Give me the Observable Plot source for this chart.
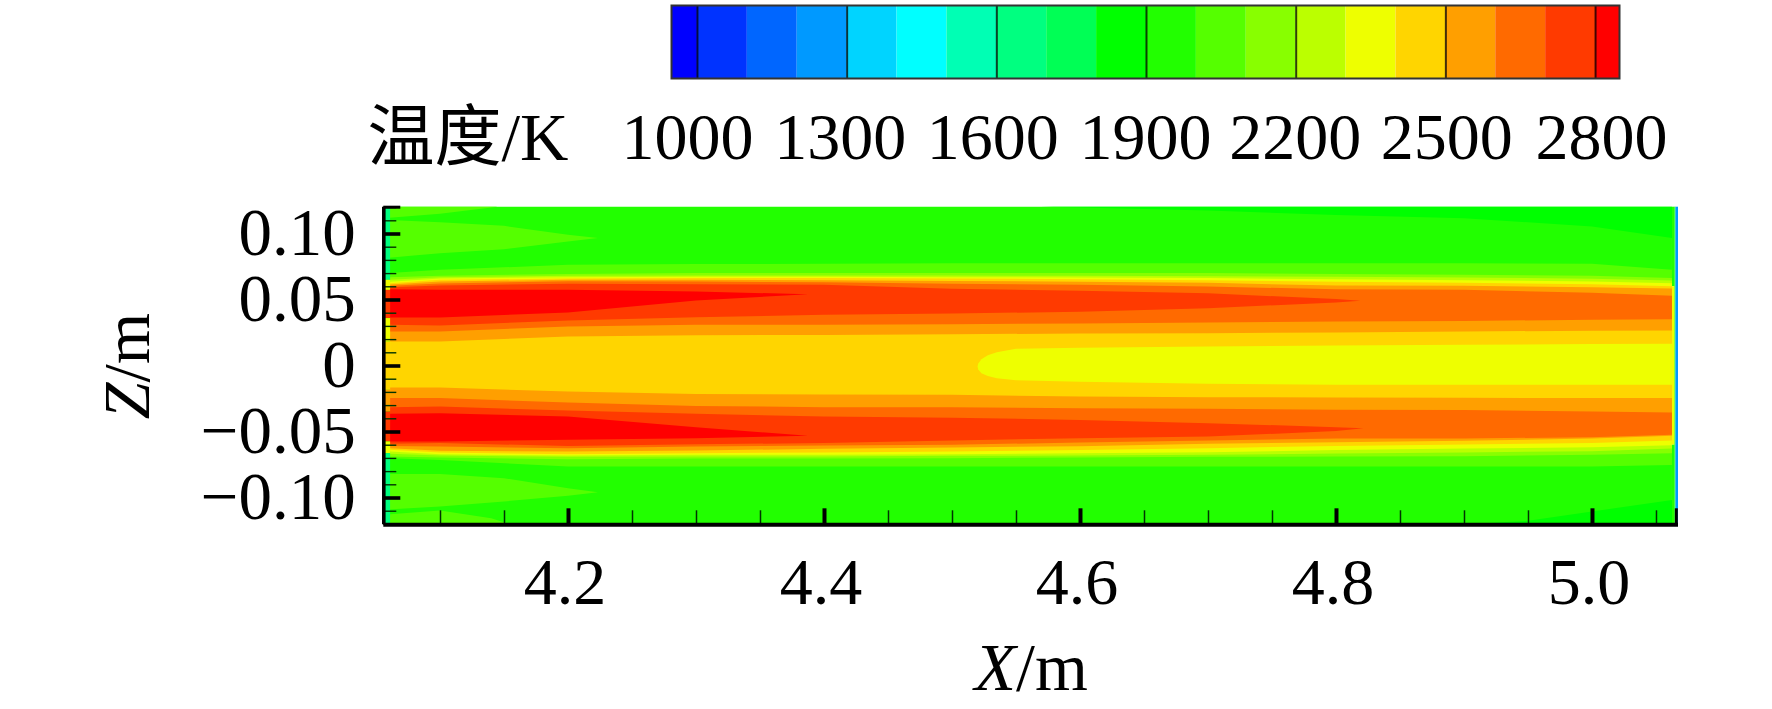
<!DOCTYPE html>
<html>
<head>
<meta charset="utf-8">
<script src="https://cdn.jsdelivr.net/npm/d3@7"></script>
<script src="https://cdn.jsdelivr.net/npm/@observablehq/plot@0.6"></script>
<style>
html,body{margin:0;padding:0;background:#fff;overflow:hidden}
svg{display:block}
</style>
</head>
<body>
<div id="chart"></div>
<script>
// Colour legend: isotherm levels and band colours
const isotherms = d3.range(1000, 2801, 100);
const bandColors = ["#0000ff","#0033ff","#0066ff","#0099ff","#00d4ff","#00ffff","#00ffb4","#00ff80","#00ff55","#00ff00",
  "#22ff00","#55ff00","#88ff00","#bbff00","#eeff00","#ffd500","#ff9f00","#ff6a00","#ff3a00","#ff0000"];
const legendTicks = [1000,1300,1600,1900,2200,2500,2800];
const legendLabelAt = [980,1286,1592,1898,2198,2502,2812];
const legendExtent = [948,2848];

// Axis values
const xDomain = [4.0557,5.0672];
const zDomain = [-0.1203,0.1203];
const xMajor = [4.2,4.4,4.6,4.8,5.0];
const xMinor = [4.1,4.15,4.25,4.3,4.35,4.45,4.5,4.55,4.65,4.7,4.75,4.85,4.9,4.95,5.05];
const zMajor = [0.10,0.05,0,-0.05,-0.10];
const zMinor = [0.12,0.11,0.09,0.08,0.07,0.06,0.04,0.03,0.02,0.01,-0.01,-0.02,-0.03,-0.04,-0.06,-0.07,-0.08,-0.09,-0.11,-0.12];

// X stations at which the isotherm positions were read
const stations = [4.061,4.1,4.2,4.3,4.4,4.5,4.6,4.7,4.8,4.9,5.0,5.0625];
const stations2700up = [4.061,4.1,4.2,4.3,4.4,4.5,4.6,4.7,4.8,4.819];
const stations2700lo = [4.061,4.1,4.2,4.3,4.4,4.5,4.6,4.7,4.8,4.8215];
const stations2800 = [4.061,4.1,4.2,4.3,4.3875];

// Z position of each isotherm, upper jet
const out2000 = [.0700,.0725,.0763,.0768,.0770,.0775,.0775,.0775,.0775,.0775,.0770,.0725];
const out2100 = [.0669,.0679,.0694,.0700,.0700,.0700,.0700,.0700,.0694,.0687,.0679,.0662];
const out2200 = [.0649,.0669,.0679,.0682,.0682,.0682,.0679,.0677,.0672,.0667,.0657,.0644];
const out2300 = [.0634,.0659,.0669,.0672,.0672,.0669,.0667,.0662,.0654,.0646,.0636,.0624];
const out2400 = [.0624,.0649,.0659,.0662,.0662,.0659,.0654,.0646,.0634,.0626,.0616,.0601];
const out2500 = [.0614,.0636,.0649,.0649,.0646,.0641,.0634,.0626,.0606,.0604,.0593,.0583];
const out2600 = [.0604,.0621,.0639,.0636,.0631,.0619,.0611,.0598,.0578,.0573,.0551,.0528];
const out2700 = [.0593,.0606,.0619,.0616,.0611,.0581,.0566,.0548,.0503,.0490];
const out2800 = [.0578,.0573,.0573,.0561,.0540];
const in2800 = [.0364,.0364,.0402,.0492,.0540];
const in2700 = [.0308,.0303,.0341,.0366,.0384,.0394,.0407,.0434,.0477,.0490];
const in2600 = [.0258,.0258,.0295,.0308,.0308,.0313,.0318,.0326,.0333,.0338,.0346,.0351];
const in2500 = [.0182,.0182,.0220,.0230,.0232,.0237,.0242,.0245,.0250,.0258,.0263,.0265];

// Z position of each isotherm, lower jet
const low2000 = [-.0702,-.0715,-.0765,-.0765,-.0765,-.0765,-.0765,-.0765,-.0765,-.0765,-.0765,-.0753];
const low2100 = [-.0689,-.0697,-.0710,-.0705,-.0705,-.0702,-.0697,-.0692,-.0689,-.0687,-.0677,-.0664];
const low2200 = [-.0669,-.0682,-.0692,-.0689,-.0689,-.0684,-.0682,-.0677,-.0667,-.0659,-.0649,-.0629];
const low2300 = [-.0652,-.0672,-.0682,-.0677,-.0677,-.0672,-.0664,-.0657,-.0641,-.0629,-.0619,-.0604];
const low2400 = [-.0639,-.0659,-.0672,-.0664,-.0659,-.0652,-.0641,-.0626,-.0609,-.0598,-.0588,-.0568];
const low2500 = [-.0626,-.0646,-.0652,-.0644,-.0631,-.0621,-.0611,-.0593,-.0581,-.0571,-.0553,-.0533];
const low2600 = [-.0609,-.0614,-.0626,-.0614,-.0606,-.0601,-.0583,-.0568,-.0553,-.0553,-.0543,-.0525];
const low2700 = [-.0593,-.0588,-.0609,-.0596,-.0588,-.0568,-.0551,-.0538,-.0497,-.0475];
const low2800 = [-.0576,-.0576,-.0563,-.0551,-.0533];
const mid2800 = [-.0366,-.0361,-.0386,-.0467,-.0533];
const mid2700 = [-.0316,-.0311,-.0341,-.0366,-.0386,-.0396,-.0412,-.0437,-.0467,-.0475];
const mid2600 = [-.0247,-.0247,-.0280,-.0306,-.0316,-.0316,-.0323,-.0328,-.0336,-.0338,-.0348,-.0356];
const mid2500 = [-.0167,-.0167,-.0197,-.0215,-.0220,-.0222,-.0235,-.0240,-.0242,-.0245,-.0247,-.0247];

// Cooler central core (2300-2400 K) near the outlet
const coreX = [4.520,4.5205,4.523,4.528,4.535,4.55,4.6,4.7,4.8,4.9,5.0,5.0625];
const coreTop = [-.0008,.0016,.0048,.0078,.0100,.0126,.0134,.0144,.0152,.0157,.0162,.0164];
const coreBot = [-.0008,-.0030,-.0058,-.0080,-.0096,-.0111,-.0124,-.0139,-.0146,-.0146,-.0146,-.0146];

// Warmer patches (2000-2100 K) near the inlet
const patchX = [4.0557,4.1,4.15,4.2,4.2234];
const patchUpTop = [.1104,.1086,.1058,.0990,.0965];
const patchUpBot = [.0813,.0851,.0881,.0939,.0965];
const patchLoTop = [-.0821,-.0821,-.0854,-.0929,-.0960];
const patchLoBot = [-.1093,-.1068,-.1030,-.0987,-.0960];
const cornerUpX = [4.0557,4.1,4.145];
const cornerUpBot = [.1116,.1149,.1203];
const cornerLoX = [4.0557,4.1,4.14,4.155];
const cornerLoTop = [-.1131,-.1099,-.1157,-.1203];

// Cooler corners (1800-1900 K) near the outlet
const coolUpX = [4.569,4.6,4.7,4.8,4.9,5.0,5.0625];
const coolUpBot = [.1203,.1197,.1174,.1141,.1116,.1053,.0965];
const coolLoX = [4.9,4.95,5.0,5.0625];
const coolLoTop = [-.1203,-.1177,-.1106,-.1018];

// Temperature columns along the two walls
const wallZ = [.1203,.0649,.0573,.0359,.0182,-.0184,-.0348,-.0576,-.0664,-.1203];
const wallInlet = [1650,2300,2700,2300,2400,2500,2700,2300,1650];
const outletZ = [.1203,.0601,-.0600,-.1203];
const wallOutlet = [1900,2300,1900];
const edgeOutlet = 1800, edgeFar = 1250;

const band = (t,xs,hi,lo) => xs.map((x,i)=>({t,x,z1:Array.isArray(hi)?hi[i]:hi,z2:Array.isArray(lo)?lo[i]:lo}));
const zTop = zDomain[1], zBot = zDomain[0];

const layers = [
  band(1900,[xDomain[0],5.0625],zTop,zBot),
  band(2000,patchX,patchUpTop,patchUpBot),
  band(2000,patchX,patchLoTop,patchLoBot),
  band(2000,cornerUpX,zTop,cornerUpBot),
  band(2000,cornerLoX,cornerLoTop,zBot),
  band(1800,coolUpX,zTop,coolUpBot),
  band(1800,coolLoX,coolLoTop,zBot),
  band(2000,stations,out2000,low2000),
  band(2100,stations,out2100,low2100),
  band(2200,stations,out2200,low2200),
  band(2300,stations,out2300,low2300),
  band(2400,stations,out2400,low2400),
  band(2500,stations,out2500,in2500),
  band(2500,stations,mid2500,low2500),
  band(2600,stations,out2600,in2600),
  band(2600,stations,mid2600,low2600),
  band(2700,stations2700up,out2700,in2700),
  band(2700,stations2700lo,mid2700,low2700),
  band(2800,stations2800,out2800,in2800),
  band(2800,stations2800,mid2800,low2800),
  band(2300,coreX,coreTop,coreBot)
];

const wallCells = [
  ...wallInlet.map((t,i)=>({t,x1:xDomain[0],x2:4.061,z1:wallZ[i],z2:wallZ[i+1]})),
  ...wallOutlet.map((t,i)=>({t,x1:5.0625,x2:5.0645,z1:outletZ[i],z2:outletZ[i+1]})),
  {t:edgeOutlet,x1:5.0645,x2:5.0652,z1:zTop,z2:zBot},
  {t:edgeFar,x1:5.0652,x2:xDomain[1],z1:zTop,z2:zBot}
];

const legendCells = bandColors.map((_,i)=>({
  t: i===0 ? 900 : isotherms[i-1],
  x1: i===0 ? legendExtent[0] : isotherms[i-1],
  x2: i===isotherms.length ? legendExtent[1] : isotherms[i]
}));

const FONT = '"Liberation Serif","Noto Sans CJK SC",serif';
const colorScale = {type:"threshold",domain:isotherms,range:bandColors};

const legendPlot = Plot.plot({
  width:1772,height:175,
  marginLeft:671,marginRight:153,marginTop:5,marginBottom:97,
  style:{background:"white",fontFamily:FONT,color:"black"},
  x:{domain:legendExtent,axis:null},
  y:{domain:[0,1],axis:null},
  color:colorScale,
  marks:[
    Plot.rect(legendCells,{x1:"x1",x2:"x2",y1:0,y2:1,fill:"t"}),
    Plot.ruleX(legendTicks,{stroke:"#000",strokeOpacity:0.75,strokeWidth:2}),
    Plot.frame({stroke:"#333",strokeWidth:2}),
    Plot.text(legendTicks,{x:(d,i)=>legendLabelAt[i],text:d=>String(d),frameAnchor:"bottom",lineAnchor:"top",dy:34,fontSize:66,fontFamily:FONT,fill:"black"}),
    Plot.text(["温度/K"],{frameAnchor:"left",dx:-304,dy:97,fontSize:67,fontFamily:FONT,fill:"black"})
  ]
});

const fmtZ = d => d===0 ? "0" : (d<0?"\u2212":"")+Math.abs(d).toFixed(2);
const xTickLen = 16/1320, xMinorLen = 11/1320;
const zTickLen = 17/1280, zMinorLen = 13/1280;

const mainPlot = Plot.plot({
  width:1772,height:534,
  marginLeft:383.3,marginRight:94,marginTop:31.7,marginBottom:184.7,
  style:{background:"white",fontFamily:FONT,color:"black"},
  x:{domain:xDomain,axis:null},
  y:{domain:zDomain,axis:null},
  color:colorScale,
  marks:[
    ...layers.map(rows=>Plot.areaY(rows,{x:"x",y1:"z1",y2:"z2",fill:"t"})),
    Plot.rect(wallCells,{x1:"x1",x2:"x2",y1:"z1",y2:"z2",fill:"t"}),
    Plot.ruleX(xMinor,{y1:zBot,y2:zBot+xMinorLen+3/1320,stroke:"#003300",strokeWidth:1.5}),
    Plot.ruleY(zMinor,{x1:xDomain[0],x2:xDomain[0]+zMinorLen,stroke:"#003300",strokeWidth:1.4}),
    Plot.ruleX(xMajor,{y1:zBot,y2:zBot+xTickLen,stroke:"#000",strokeWidth:4}),
    Plot.ruleX([5.0655],{y1:zBot,y2:zBot+xTickLen,stroke:"#000",strokeWidth:3}),
    Plot.ruleY(zMajor,{x1:xDomain[0],x2:xDomain[0]+zTickLen,stroke:"#000",strokeWidth:3.6}),
    Plot.ruleY([zTop],{x1:xDomain[0],x2:xDomain[0]+zTickLen,stroke:"#000",strokeWidth:3}),
    Plot.ruleX([xDomain[0]],{stroke:"#000",strokeWidth:3.6}),
    Plot.ruleY([zBot],{x1:xDomain[0],x2:xDomain[1],stroke:"#000",strokeWidth:4}),
    Plot.axisX({ticks:xMajor,tickSize:0,tickPadding:32,dx:-3.5,fontSize:66,fontFamily:FONT,label:null,tickFormat:d=>d.toFixed(1)}),
    Plot.axisY({ticks:zMajor,tickSize:0,tickPadding:28,fontSize:67,fontFamily:FONT,label:null,tickFormat:fmtZ}),
    Plot.text(["X/m"],{frameAnchor:"bottom",lineAnchor:"bottom",dy:165,fontSize:68,fontFamily:FONT,fill:"black"}),
    Plot.text(["Z/m"],{frameAnchor:"left",textAnchor:"middle",rotate:-90,lineAnchor:"bottom",dx:-235,fontSize:66,fontFamily:FONT,fill:"black"})
  ]
});

// Axis titles set the variable letter in italic
d3.select(mainPlot).selectAll("text").each(function(){
  const s = this.textContent;
  if (s==="X/m" || s==="Z/m") {
    const el = d3.select(this);
    el.text(null);
    el.append("tspan").attr("font-style","italic").text(s[0]);
    el.append("tspan").text("/m");
  }
});

const chartRoot = document.getElementById("chart");
chartRoot.appendChild(legendPlot);
chartRoot.appendChild(mainPlot);
</script>
</body>
</html>
